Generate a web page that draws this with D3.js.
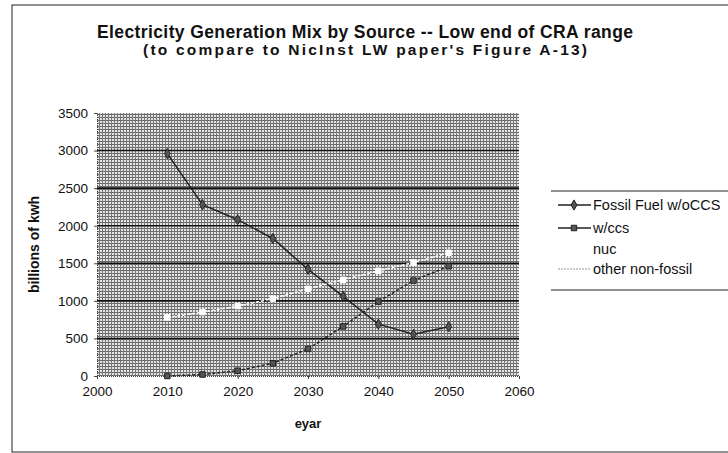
<!DOCTYPE html>
<meta charset="utf-8">
<script src="https://d3js.org/d3.v7.min.js"></script>
<style>
body { margin: 0; background: #fff; }
text { font-family: Arial, "Liberation Sans", sans-serif; fill: #111; }
</style>
<body>
<script>
var years = [2010, 2015, 2020, 2025, 2030, 2035, 2040, 2045, 2050];
var fossil = [2960, 2280, 2080, 1830, 1420, 1060, 690, 555, 655];
var ccs = [0, 20, 70, 170, 360, 660, 990, 1270, 1460];
var otherNonFossil = [780, 850, 930, 1030, 1160, 1280, 1400, 1510, 1640];
var nuc = [];
var yTicks = [0, 500, 1000, 1500, 2000, 2500, 3000, 3500];
var xTicks = [2000, 2010, 2020, 2030, 2040, 2050, 2060];
var seriesNames = ["Fossil Fuel w/oCCS", "w/ccs", "nuc", "other non-fossil"];

var W = 728, H = 453;
var plot = {left: 97, top: 113, right: 519, bottom: 376};

var svg = d3.select("body").append("svg")
	.attr("width", W)
	.attr("height", H);

// dithered grey fill like the scan
var defs = svg.append("defs");
var pat = defs.append("pattern")
	.attr("id", "dither")
	.attr("width", 3).attr("height", 3)
	.attr("patternUnits", "userSpaceOnUse");
pat.append("rect").attr("width", 3).attr("height", 3).attr("fill", "#e4e4e4");
pat.append("rect").attr("width", 3).attr("height", 1).attr("fill", "#666");
pat.append("rect").attr("width", 1).attr("height", 3).attr("fill", "#777");

// outer border
svg.append("rect")
	.attr("x", 12).attr("y", 5)
	.attr("width", W).attr("height", 447)
	.attr("fill", "none")
	.attr("stroke", "#222")
	.attr("stroke-width", 1);

var x = d3.scaleLinear().domain([2000, 2060]).range([plot.left, plot.right]);
var y = d3.scaleLinear().domain([0, 3500]).range([plot.bottom, plot.top]);

svg.append("rect")
	.attr("x", plot.left).attr("y", plot.top)
	.attr("width", plot.right - plot.left)
	.attr("height", plot.bottom - plot.top)
	.attr("fill", "url(#dither)");

// gridlines
svg.selectAll(".grid")
	.data(yTicks.filter(function(d){ return d > 0 && d < 3500; }))
	.enter().append("line")
	.attr("x1", plot.left).attr("x2", plot.right)
	.attr("y1", function(d){ return y(d); })
	.attr("y2", function(d){ return y(d); })
	.attr("stroke", "#111")
	.attr("stroke-width", 1.6);

// axes
var yAxis = svg.append("g")
	.attr("transform", "translate(" + plot.left + ",0)")
	.call(d3.axisLeft(y).tickValues(yTicks).tickFormat(d3.format("d")).tickSize(3).tickPadding(6));
var xAxis = svg.append("g")
	.attr("transform", "translate(0," + plot.bottom + ")")
	.call(d3.axisBottom(x).tickValues(xTicks).tickFormat(d3.format("d")).tickSize(3).tickPadding(7));
[yAxis, xAxis].forEach(function(g) {
	g.select(".domain").attr("stroke", "#444").attr("stroke-dasharray", "1,1");
	g.selectAll(".tick line").attr("stroke", "#444");
	g.selectAll("text").attr("font-size", 13.5).attr("fill", "#111")
		.style("font-family", "Arial, 'Liberation Sans', sans-serif");
});

var line = d3.line()
	.x(function(d){ return x(d[0]); })
	.y(function(d){ return y(d[1]); });

function pairs(vals) { return vals.map(function(v, i){ return [years[i], v]; }); }

var series = [
	{name: seriesNames[0], vals: fossil, color: "#222", dash: null, marker: "diamond"},
	{name: seriesNames[1], vals: ccs, color: "#222", dash: "3,2", marker: "square"},
	{name: seriesNames[2], vals: nuc, color: "none", dash: null, marker: null},
	{name: seriesNames[3], vals: otherNonFossil, color: "#fff", dash: "3,2", marker: "square"}
];

var symbolType = {diamond: d3.symbolDiamond, square: d3.symbolSquare};

series.forEach(function(s) {
	if (!s.vals.length) return;
	svg.append("path")
		.datum(pairs(s.vals))
		.attr("d", line)
		.attr("fill", "none")
		.attr("stroke", s.color)
		.attr("stroke-width", 1.5)
		.attr("stroke-dasharray", s.dash);
	svg.selectAll(null)
		.data(pairs(s.vals))
		.enter().append("path")
		.attr("d", d3.symbol().type(symbolType[s.marker]).size(30))
		.attr("transform", function(d){ return "translate(" + x(d[0]) + "," + y(d[1]) + ")"; })
		.attr("fill", s.color === "#fff" ? "#fff" : "#555")
		.attr("stroke", s.color)
		.attr("stroke-width", 1);
});

// legend
var legY = [205, 228, 249, 269];
svg.append("line").attr("x1", 551).attr("x2", W).attr("y1", 191).attr("y2", 191)
	.attr("stroke", "#222").attr("stroke-width", 1.2);
svg.append("line").attr("x1", 551).attr("x2", W).attr("y1", 290).attr("y2", 290)
	.attr("stroke", "#222").attr("stroke-width", 1.2);
var leg = svg.selectAll(".leg").data(series).enter().append("g")
	.attr("transform", function(d, i){ return "translate(0," + legY[i] + ")"; });
leg.append("line")
	.attr("x1", 558).attr("x2", 591)
	.attr("stroke", function(d){ return d.color === "#fff" ? "#bbb" : d.color; })
	.attr("stroke-width", 1.5)
	.attr("stroke-dasharray", function(d){ return d.color === "#fff" ? "2,1" : null; });
leg.filter(function(d){ return d.marker && d.color !== "#fff"; }).append("path")
	.attr("d", function(d){ return d3.symbol().type(symbolType[d.marker]).size(30)(); })
	.attr("transform", "translate(574,0)")
	.attr("fill", "#555").attr("stroke", "#222");
leg.append("text")
	.attr("x", 593).attr("dy", "0.35em")
	.attr("font-size", 14.5)
	.text(function(d){ return d.name; });

// titles
svg.append("text")
	.attr("x", 365).attr("y", 38)
	.attr("text-anchor", "middle")
	.attr("font-size", 17.5).attr("font-weight", "bold")
	.attr("textLength", 536).attr("lengthAdjust", "spacing")
	.text("Electricity Generation Mix by Source -- Low end of CRA range");
svg.append("text")
	.attr("x", 365).attr("y", 55)
	.attr("text-anchor", "middle")
	.attr("font-size", 15.5).attr("font-weight", "bold")
	.attr("textLength", 444).attr("lengthAdjust", "spacing")
	.text("(to compare to NicInst LW paper's Figure A-13)");
svg.append("text")
	.attr("transform", "translate(39," + ((plot.top + plot.bottom) / 2) + ") rotate(-90)")
	.attr("text-anchor", "middle")
	.attr("font-size", 14).attr("font-weight", "bold")
	.text("billions of kwh");
svg.append("text")
	.attr("x", (plot.left + plot.right) / 2).attr("y", 428)
	.attr("text-anchor", "middle")
	.attr("font-size", 13).attr("font-weight", "bold")
	.text("eyar");
</script>
</body>
</html>
